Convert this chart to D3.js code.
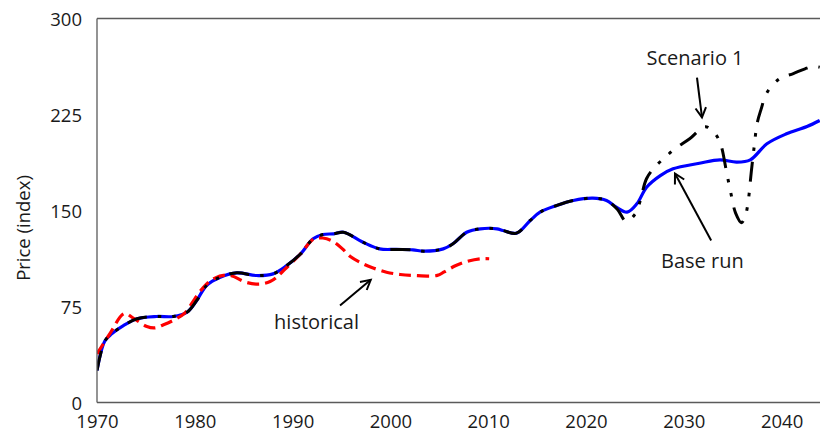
<!DOCTYPE html>
<html>
<head>
<meta charset="utf-8">
<script src="https://cdn.jsdelivr.net/npm/d3@7"></script>
<style>
  html, body { margin: 0; padding: 0; background: #fff; }
  svg { display: block; font-family: "Open Sans", "Liberation Sans", sans-serif; }
</style>
</head>
<body>
<svg id="chart" width="820" height="432"></svg>
<script>
// Year ticks and price-index ticks
const yearTicks = [1970, 1980, 1990, 2000, 2010, 2020, 2030, 2040];
const priceTicks = [0, 75, 150, 225, 300];

// Base run (model), price index by year
const baseYears = [1970.0, 1970.8, 1971.5, 1972.7, 1974.1, 1976.1, 1977.8, 1979.2, 1980.2, 1981.2,
  1982.6, 1984.3, 1986.3, 1988.0, 1989.4, 1990.8, 1992.1, 1993.1, 1994.2, 1995.2,
  1997.2, 1998.9, 2000.6, 2002.3, 2003.4, 2005.4, 2006.4, 2007.8, 2009.2, 2010.9,
  2011.5, 2012.9, 2014.3, 2015.3, 2017.0, 2018.7, 2020.7, 2022.1, 2023.1, 2024.2,
  2025.2, 2026.2, 2027.6, 2028.9, 2031.6, 2033.7, 2035.4, 2036.8, 2038.5, 2040.5,
  2042.6, 2043.9];
const baseValues = [25, 48, 53.6, 60, 65.4, 67.2, 67.2, 70.5, 79.7, 91.4,
  97.9, 101.3, 99.2, 100.5, 107, 116, 127.9, 131.2, 131.8, 133,
  125.2, 120, 119.6, 119.3, 118.2, 120, 124, 133, 135.7, 135.7,
  134.4, 132.3, 142.2, 148.7, 153.9, 157.8, 159.6, 157.8, 152.6, 148.7,
  155.2, 168.2, 177.3, 182.6, 186.9, 189.6, 187.8, 189.6, 202.1, 209.9,
  215.6, 220.3];

// Scenario 1: follows the base run until the early 2020s, then diverges
const scenarioYears = [1970.0, 1970.8, 1971.5, 1972.7, 1974.1, 1976.1, 1977.8, 1979.2, 1980.2, 1981.2,
  1982.6, 1984.3, 1986.3, 1988.0, 1989.4, 1990.8, 1992.1, 1993.1, 1994.2, 1995.2,
  1997.2, 1998.9, 2000.6, 2002.3, 2003.4, 2005.4, 2006.4, 2007.8, 2009.2, 2010.9,
  2011.5, 2012.9, 2014.3, 2015.3, 2017.0, 2018.7, 2020.7, 2022.1, 2023.2, 2024.1,
  2025.0, 2025.5, 2026.2, 2027.1, 2028.1, 2029.1, 2030.6, 2032.2, 2033.2, 2033.8,
  2034.3, 2034.8, 2035.3, 2035.9, 2036.3, 2036.6, 2036.9, 2037.2, 2037.5, 2037.9,
  2038.5, 2039.8, 2041.2, 2042.4, 2043.2, 2043.9];
const scenarioValues = [25, 48, 53.6, 60, 65.4, 67.2, 67.2, 70.5, 79.7, 91.4,
  97.9, 101.3, 99.2, 100.5, 107, 116, 127.9, 131.2, 131.8, 133,
  125.2, 120, 119.6, 119.3, 118.2, 120, 124, 133, 135.7, 135.7,
  134.4, 132.3, 142.2, 148.7, 153.9, 157.8, 159.6, 157.8, 151, 141.6,
  147, 156.5, 175, 184.4, 191.6, 198.2, 206, 215.5, 210, 201,
  183, 164, 148, 140.5, 146, 158, 180, 200, 218, 229,
  242, 253, 257, 260.7, 262.5, 262];

// Historical price index
const histYears = [1970.0, 1971.3, 1972.8, 1973.7, 1975.1, 1975.9, 1976.8, 1978.1, 1979.0, 1980.0,
  1981.0, 1982.0, 1983.5, 1985.2, 1986.6, 1987.7, 1988.4, 1989.2, 1990.8, 1992.1,
  1993.1, 1994.1, 1995.1, 1995.9, 1996.9, 1998.1, 1999.6, 2001.0, 2002.3, 2004.8,
  2005.5, 2006.7, 2008.0, 2009.3, 2010.1];
const histValues = [38, 53.6, 69.5, 66, 59.4, 58.3, 60.7, 65.4, 70, 81,
  91, 97, 99.5, 94, 92.5, 94.5, 98, 104, 116, 127.5,
  128.5, 126, 120, 114, 109.5, 105.5, 101.8, 100, 99.3, 99.3,
  102, 107, 110.5, 112.3, 112.3];

// Annotation texts and arrows, placed in data units: [year, value]
const labelTexts = ["Scenario 1", "Base run", "historical"];
const labelAnchors = [[2031.15, 263.3], [2031.9, 104.7], [1992.45, 57.6]];
const arrowFrom = [[2031.35, 253.9], [2032.8, 126.6], [1994.85, 75.8]];
const arrowTo = [[2031.86, 222.7], [2029.1, 178.9], [1997.99, 95.9]];

const svg = d3.select("#chart");
const x = d3.scaleLinear().domain([1970, 2044]).range([97, 820.7]);
const y = d3.scaleLinear().domain([0, 300]).range([402.5, 18.5]);

// Clip to plot area
svg.append("defs").append("clipPath").attr("id", "plot")
  .append("rect").attr("x", x(1970)).attr("y", y(300) - 4)
  .attr("width", x(2044) - x(1970)).attr("height", y(0) - y(300) + 4);

const line = d3.line()
  .x(d => x(d[0])).y(d => y(d[1]))
  .curve(d3.curveCatmullRom.alpha(0.5));

const zip = (a, b) => a.map((v, i) => [v, b[i]]);

const g = svg.append("g").attr("clip-path", "url(#plot)");

g.append("path").datum(zip(baseYears, baseValues))
  .attr("d", line).attr("fill", "none")
  .attr("stroke", "#0000ff").attr("stroke-width", 3.2);

g.append("path").datum(zip(histYears, histValues))
  .attr("d", line).attr("fill", "none")
  .attr("stroke", "#ff0000").attr("stroke-width", 3.2)
  .attr("stroke-dasharray", "12,6");

g.append("path").datum(zip(scenarioYears, scenarioValues))
  .attr("d", line).attr("fill", "none")
  .attr("stroke", "#000").attr("stroke-width", 3)
  .attr("stroke-dasharray", "20,11,3.5,11,3.5,11");

// Axis frame: left, bottom and top edges
const axisColor = "#5a5a5a";
svg.append("line").attr("x1", x(1970)).attr("x2", x(1970)).attr("y1", y(300)).attr("y2", y(0))
  .attr("stroke", axisColor).attr("stroke-width", 1.3);
svg.append("line").attr("x1", x(1970)).attr("x2", 820).attr("y1", y(0)).attr("y2", y(0))
  .attr("stroke", axisColor).attr("stroke-width", 1.3);
svg.append("line").attr("x1", x(1970)).attr("x2", 820).attr("y1", y(300)).attr("y2", y(300))
  .attr("stroke", axisColor).attr("stroke-width", 1.3);

// Tick labels through D3 axes (tick marks and domain hidden)
const xAxis = svg.append("g").attr("transform", `translate(0,${y(0)})`)
  .call(d3.axisBottom(x).tickValues(yearTicks).tickFormat(d3.format("d")).tickSize(0).tickPadding(0));
xAxis.select(".domain").remove();
xAxis.selectAll("text").attr("y", 25.5).attr("dy", null)
  .attr("font-size", 18.5).attr("font-family", "Open Sans").attr("fill", "#1a1a1a");

const yAxis = svg.append("g").attr("transform", `translate(${x(1970)},0)`)
  .call(d3.axisLeft(y).tickValues(priceTicks).tickSize(0).tickPadding(15));
yAxis.select(".domain").remove();
yAxis.selectAll("text").attr("dy", "0.38em")
  .attr("font-size", 18.5).attr("font-family", "Open Sans").attr("fill", "#1a1a1a");

svg.append("text")
  .attr("transform", `translate(30,228) rotate(-90)`)
  .attr("text-anchor", "middle")
  .attr("font-size", 18.5).attr("fill", "#1a1a1a")
  .text("Price (index)");

// Annotations
labelTexts.forEach((t, i) => {
  svg.append("text")
    .attr("x", x(labelAnchors[i][0])).attr("y", y(labelAnchors[i][1]))
    .attr("text-anchor", "middle").attr("font-size", 20).attr("fill", "#1a1a1a")
    .text(t);
  const x1 = x(arrowFrom[i][0]), y1 = y(arrowFrom[i][1]);
  const x2 = x(arrowTo[i][0]), y2 = y(arrowTo[i][1]);
  svg.append("line").attr("x1", x1).attr("y1", y1).attr("x2", x2).attr("y2", y2)
    .attr("stroke", "#000").attr("stroke-width", 2);
  const ang = Math.atan2(y2 - y1, x2 - x1);
  const len = 11, spread = 0.5;
  const head = [
    [x2 - len * Math.cos(ang - spread), y2 - len * Math.sin(ang - spread)],
    [x2, y2],
    [x2 - len * Math.cos(ang + spread), y2 - len * Math.sin(ang + spread)]
  ];
  svg.append("path").attr("d", d3.line()(head))
    .attr("fill", "none").attr("stroke", "#000").attr("stroke-width", 2)
    .attr("stroke-linejoin", "miter");
});
</script>
</body>
</html>
